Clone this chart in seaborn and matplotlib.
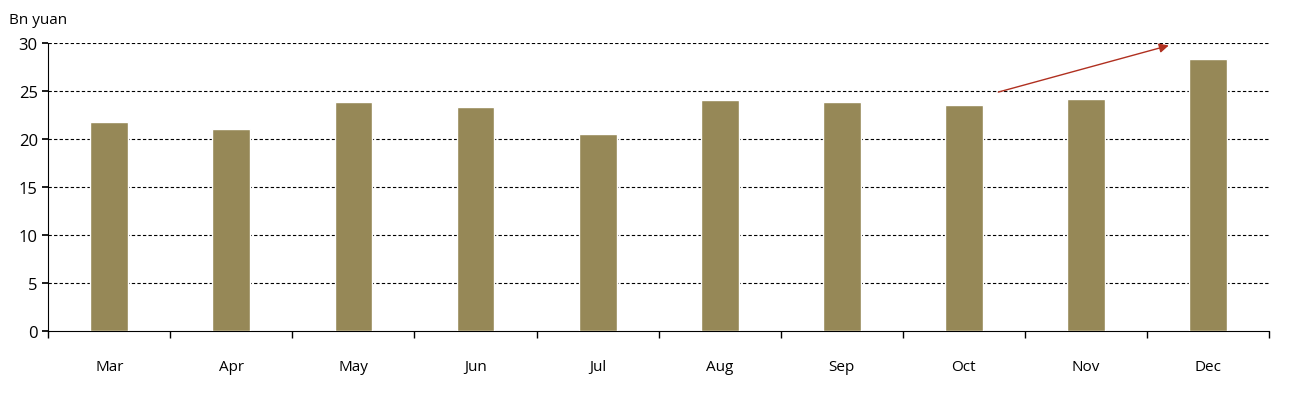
import matplotlib
matplotlib.use("Agg")
import matplotlib.pyplot as plt
import seaborn as sns
import pandas as pd

months = ["Mar", "Apr", "May", "Jun", "Jul", "Aug", "Sep", "Oct", "Nov", "Dec"]
values = [21.8, 21.0, 23.85, 23.3, 20.5, 24.1, 23.85, 23.5, 24.2, 28.3]

sns.set_theme(style="white")
plt.rcParams["font.family"] = ["Open Sans", "DejaVu Sans"]

df = pd.DataFrame({"month": months, "value": values})
fig = plt.figure(figsize=(13.03, 4.06), dpi=100)
ax = fig.add_axes([0.037, 0.182, 0.937, 0.71])
sns.barplot(data=df, x="month", y="value", color="#968857", width=0.31,
            saturation=1, ax=ax, zorder=3)

ax.set_ylim(0, 30)
ax.set_xlim(-0.5, len(months) - 0.5)
ax.set_yticks(range(0, 31, 5))
for y in range(5, 31, 5):
    ax.axhline(y, color="black", lw=0.8, ls=(0, (3, 2)), zorder=1)
for s in ["top", "right"]:
    ax.spines[s].set_visible(False)
for s in ["left", "bottom"]:
    ax.spines[s].set_color("black")
    ax.spines[s].set_linewidth(0.8)
ax.set_xlabel("")
ax.set_ylabel("")
ax.tick_params(axis="y", left=True, length=4, labelsize=12, colors="black")
ax.tick_params(axis="x", bottom=False, labelsize=11, pad=14, colors="black")
ax.set_xticks([i - 0.5 for i in range(len(months) + 1)], minor=True)
ax.tick_params(axis="x", which="minor", bottom=True, length=5, color="black")

ax.annotate("", xy=(8.7, 29.8), xytext=(7.26, 24.8),
            arrowprops=dict(arrowstyle="-|>", color="#b03020", lw=1, mutation_scale=14),
            zorder=5)
fig.text(0.007, 0.94, "Bn yuan", fontsize=11, color="black")

fig.savefig("out.png", dpi=100)
